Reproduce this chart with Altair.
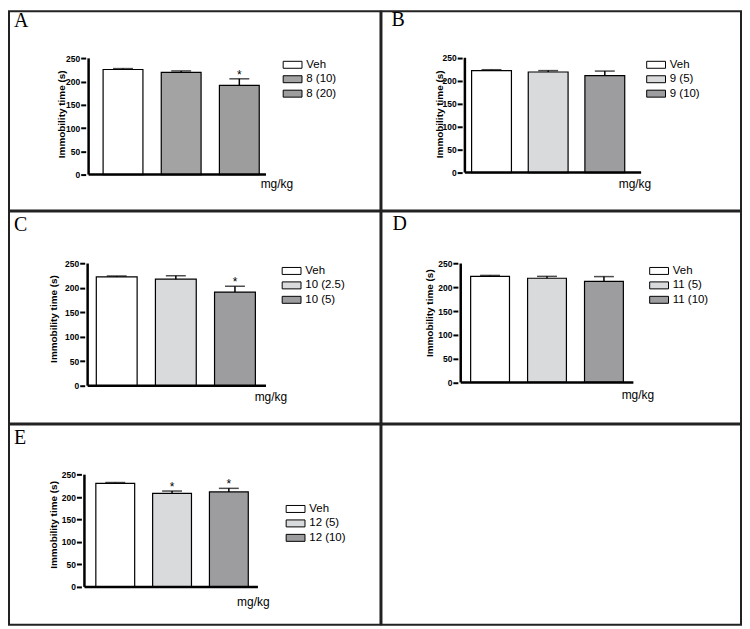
import altair as alt
import pandas as pd

# ---------------- data ----------------
groups_A = ["Veh", "8 (10)", "8 (20)"]
means_A = [226, 220, 192]
sems_A = [2, 3, 14]
sig_A = ["", "", "*"]

groups_B = ["Veh", "9 (5)", "9 (10)"]
means_B = [222, 219, 211]
sems_B = [2, 3, 10]
sig_B = ["", "", ""]

groups_C = ["Veh", "10 (2.5)", "10 (5)"]
means_C = [222.5, 218, 191.5]
sems_C = [2, 7, 12]
sig_C = ["", "", "*"]

groups_D = ["Veh", "11 (5)", "11 (10)"]
means_D = [223, 219, 212.5]
sems_D = [2, 4, 10]
sig_D = ["", "", ""]

groups_E = ["Veh", "12 (5)", "12 (10)"]
means_E = [230.5, 208.5, 211.5]
sems_E = [2, 5, 8]
sig_E = ["", "*", "*"]

y_ticks = [0, 50, 100, 150, 200, 250]

# ---------------- styles ----------------
colors_A = ["#ffffff", "#a3a3a3", "#9d9d9d"]
colors_other = ["#ffffff", "#d9dadb", "#9d9d9f"]
SANS = "Liberation Sans"
SERIF = "Liberation Serif"
BORDER_W = 2

# layout geometry in page pixels (axis position, zero / 250 lines, bar centres...)
geo = {
    "A": dict(ox=10, oy=10, W=373, H=200, ax=87, y0=174, y250=57.3, xend=270, c0=122.5, sp=60, bw=40,
              leg=(283, 64), title=(63, 113), mg=(279, 183), let=(15, 26)),
    "B": dict(ox=383, oy=10, W=361, H=200, ax=464, y0=172, y250=56.7, xend=646, c0=491.5, sp=58.5, bw=40,
              leg=(647, 64), title=(441, 113), mg=(637.5, 183.7), let=(393, 25)),
    "C": dict(ox=10, oy=210, W=373, H=213, ax=86, y0=385, y250=262.3, xend=270, c0=116, sp=61, bw=41,
              leg=(282, 270), title=(55, 317.5), mg=(273, 396.7), let=(15, 230)),
    "D": dict(ox=383, oy=210, W=361, H=213, ax=459.7, y0=381.7, y250=262.3, xend=638, c0=490, sp=58.8, bw=39,
              leg=(650, 270), title=(431.3, 311.7), mg=(640.5, 394.3), let=(394, 229)),
    "E": dict(ox=10, oy=423, W=373, H=201, ax=82.7, y0=586, y250=473.3, xend=261.7, c0=114.5, sp=58.6, bw=39,
              leg=(286, 508), title=(55, 523.3), mg=(255.3, 601), let=(15, 443)),
}


def panel(letter, groups, means, sems, sig, colors):
    g = geo[letter]
    ox, oy, W, H = g["ox"], g["oy"], g["W"], g["H"]
    c0 = g["c0"] - ox
    sp = g["sp"]
    axl = g["ax"] - ox
    y0 = g["y0"] - oy
    y250 = g["y250"] - oy
    k = (y0 - y250) / 250.0
    xdom = [(0 - c0) / sp, (W - c0) / sp]
    ydom = [-(H - y0) / k, y0 / k]
    ax_idx = (axl - c0) / sp
    xend_idx = (g["xend"] - ox - c0) / sp

    df = pd.DataFrame({
        "pos": list(range(len(groups))),
        "group": groups,
        "mean": means,
        "top": [m + s for m, s in zip(means, sems)],
        "sig": sig,
    })
    xs = alt.Scale(domain=xdom, nice=False, zero=False)
    ys = alt.Scale(domain=ydom, nice=False, zero=False)
    X = alt.X("pos:Q", scale=xs, axis=None)

    base = alt.Chart(df)
    bars = base.mark_bar(size=g["bw"], stroke="black", strokeWidth=1.2, orient="vertical").encode(
        x=X,
        y=alt.Y("mean:Q", scale=ys, axis=alt.Axis(
            values=y_ticks, tickCount=20, offset=-axl, domain=False, grid=False,
            ticks=True, tickSize=5, tickWidth=2, tickColor="black",
            labelFont=SANS, labelFontSize=8.5, labelFontWeight="bold", labelColor="black", labelPadding=1,
            labelOverlap=False, labelFlush=False, labelBound=False,
            title="Immobility time (s)", titleFont=SANS, titleFontSize=10, titleFontWeight="bold",
            titleColor="black", titleX=(g["title"][0] - g["ax"]), titleY=(g["title"][1] - oy),
            titleBaseline="middle", titleAlign="center")),
        y2=alt.datum(0),
        color=alt.Color("group:N", scale=alt.Scale(domain=groups, range=colors),
                        legend=alt.Legend(orient="none", legendX=g["leg"][0] - ox + 6,
                                          legendY=g["leg"][1] - oy - 6, title=None,
                                          symbolType="M-2.7,-1H2.7V1H-2.7Z", symbolSize=49,
                                          symbolStrokeColor="black", symbolStrokeWidth=1,
                                          symbolOpacity=1, labelFont=SANS, labelFontSize=11.5,
                                          labelColor="black", labelOffset=8, rowPadding=1.5, padding=0)),
    )
    err = base.mark_rule(color="black", strokeWidth=1.5).encode(x=X, y=alt.Y("mean:Q", scale=ys), y2="top:Q")
    cap = base.mark_tick(orient="horizontal", size=20, thickness=1.5, color="black").encode(
        x=X, y=alt.Y("top:Q", scale=ys))
    stars = base.mark_text(font=SANS, fontSize=12, baseline="alphabetic", dy=0, color="black").encode(
        x=X, y=alt.Y("top:Q", scale=ys), text="sig:N")

    one = alt.Chart(pd.DataFrame({"a": [0]}))
    yaxis = one.mark_rule(color="black", strokeWidth=2.5).encode(
        x=alt.datum(ax_idx), y=alt.datum(0), y2=alt.datum(250))
    xaxis = one.mark_rule(color="black", strokeWidth=2.5).encode(
        x=alt.datum(ax_idx), x2=alt.datum(xend_idx), y=alt.datum(0))
    mg = one.mark_text(text="mg/kg", font=SANS, fontSize=12, align="center", baseline="middle",
                       color="black").encode(x=alt.value(g["mg"][0] - ox), y=alt.value(g["mg"][1] - oy))
    lab = one.mark_text(text=letter, font=SERIF, fontSize=20, align="left", baseline="alphabetic",
                        color="black").encode(x=alt.value(g["let"][0] - ox), y=alt.value(g["let"][1] - oy))

    return alt.layer(bars, err, cap, stars, yaxis, xaxis, mg, lab).properties(width=W, height=H)


pA = panel("A", groups_A, means_A, sems_A, sig_A, colors_A)
pB = panel("B", groups_B, means_B, sems_B, sig_B, colors_other)
pC = panel("C", groups_C, means_C, sems_C, sig_C, colors_other)
pD = panel("D", groups_D, means_D, sems_D, sig_D, colors_other)
pE = panel("E", groups_E, means_E, sems_E, sig_E, colors_other)
empty = alt.Chart(pd.DataFrame({"a": [0]})).mark_point(opacity=0).encode(
    x=alt.value(0), y=alt.value(0)).properties(width=geo["B"]["W"], height=geo["E"]["H"])

ind = dict(x="independent", y="independent", color="independent")
gap = -2 * BORDER_W
row1 = alt.hconcat(pA, pB, spacing=gap).resolve_scale(**ind)
row2 = alt.hconcat(pC, pD, spacing=gap).resolve_scale(**ind)
row3 = alt.hconcat(pE, empty, spacing=gap).resolve_scale(**ind)

chart = alt.vconcat(row1, row2, row3, spacing=gap).resolve_scale(**ind).properties(
    padding=0, background="white"
).configure_view(stroke="#222222", strokeWidth=BORDER_W)

chart.save("out.html", embed_options={"renderer": "svg", "actions": False})
